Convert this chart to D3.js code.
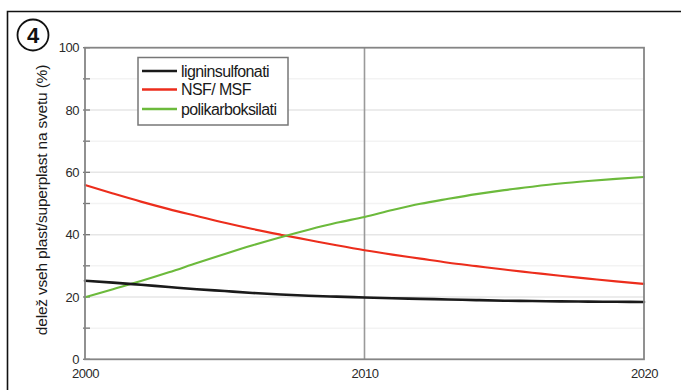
<!DOCTYPE html>
<html><head><meta charset="utf-8">
<script src="https://cdn.jsdelivr.net/npm/d3@7"></script>
<style>body{margin:0;background:#fff}svg{display:block}text{font-family:"Liberation Sans",Arial,sans-serif}</style>
</head><body>
<svg id="c" width="681" height="390"></svg>
<script>
const years = [2000,2001,2002,2003,2004,2005,2006,2007,2008,2009,2010,2011,2012,2013,2014,2015,2016,2017,2018,2019,2020];
const ligninsulfonati = [25.2,24.6,23.9,23.2,22.5,21.9,21.3,20.8,20.4,20.1,19.85,19.6,19.4,19.2,19.0,18.8,18.7,18.6,18.5,18.45,18.4];
const nsfMsf = [55.9,53.2,50.6,48.2,46.0,43.8,41.8,40.0,38.3,36.6,35.0,33.6,32.3,31.0,29.9,28.8,27.8,26.8,25.9,25.0,24.2];
const polikarboksilati = [19.9,22.5,25.1,27.9,30.9,33.8,36.6,39.2,41.6,43.8,45.7,47.9,49.9,51.5,53.0,54.3,55.4,56.4,57.2,57.9,58.5];
const seriesNames = ["ligninsulfonati","NSF/ MSF","polikarboksilati"];
const seriesColors = ["#1a1a1a","#ec2d1c","#6cba3c"];
const yTicks = [0,20,40,60,80,100];
const xTicks = [2000,2010,2020];
const yLabel = "delež vseh plast/superplast na svetu (%)";

const svg = d3.select("#c");
const L=85, R=644, T=47.7, B=359.3;
const x = d3.scaleLinear().domain([2000,2020]).range([L,R]);
const y = d3.scaleLinear().domain([0,100]).range([B,T]);

// outer border (top + left)
svg.append("path").attr("d",`M7.5,390 V11.5 H681`).attr("fill","none").attr("stroke","#111").attr("stroke-width",1.6);

// badge
svg.append("circle").attr("cx",33).attr("cy",35).attr("r",15.5).attr("fill","#fff").attr("stroke","#111").attr("stroke-width",1.8);
svg.append("text").attr("x",33).attr("y",43).attr("text-anchor","middle").attr("font-size",22).attr("font-weight","bold").attr("fill","#111").text("4");

// grid
const minor = d3.range(10,100,10);
svg.append("g").selectAll("line").data(minor).join("line")
  .attr("x1",L).attr("x2",R).attr("y1",d=>y(d)).attr("y2",d=>y(d))
  .attr("stroke",d=>d%20===0?"#e6e6e6":"#f3f3f3").attr("stroke-width",1.5);

// y axis ticks
const yAxis = d3.axisLeft(y).tickValues(yTicks).tickSize(0).tickPadding(6);
const gy = svg.append("g").attr("transform",`translate(${L},0)`).call(yAxis);
gy.select(".domain").remove();
gy.selectAll("text").attr("font-size",13).attr("fill","#2a2a2a").attr("font-family","Liberation Sans, Arial, sans-serif").attr("letter-spacing","-0.5");
svg.append("g").selectAll("line").data(d3.range(0,101,10)).join("line")
  .attr("x1",L-2).attr("x2",L+5).attr("y1",d=>y(d)).attr("y2",d=>y(d))
  .attr("stroke","#777").attr("stroke-width",1.3);

// x axis labels
const xAxis = d3.axisBottom(x).tickValues(xTicks).tickFormat(d3.format("d")).tickSize(0).tickPadding(9);
const gx = svg.append("g").attr("transform",`translate(0,${B})`).call(xAxis);
gx.select(".domain").remove();
gx.selectAll("text").attr("font-size",13).attr("fill","#2a2a2a").attr("font-family","Liberation Sans, Arial, sans-serif").attr("letter-spacing","-0.5");

// 2010 vertical line
svg.append("line").attr("x1",x(2010)).attr("x2",x(2010)).attr("y1",T).attr("y2",B).attr("stroke","#9a9a9a").attr("stroke-width",1.6);

// lines
const allSeries = [ligninsulfonati,nsfMsf,polikarboksilati];
const line = d3.line().x((d,i)=>x(years[i])).y(d=>y(d)).curve(d3.curveMonotoneX);
const draw = [1,2,0];
draw.forEach(k=>{
  svg.append("path").datum(allSeries[k]).attr("d",line).attr("fill","none")
    .attr("stroke",seriesColors[k]).attr("stroke-width",k===0?2.6:2.1).attr("stroke-linecap","round");
});

// frame
svg.append("rect").attr("x",L).attr("y",T).attr("width",R-L).attr("height",B-T).attr("fill","none").attr("stroke","#858585").attr("stroke-width",1.8);

// y label
svg.append("text").attr("transform",`translate(47,200) rotate(-90)`).attr("text-anchor","middle")
  .attr("font-size",15.5).attr("fill","#1a1a1a").attr("letter-spacing","-0.2").text(yLabel);

// legend
const lg = svg.append("g");
lg.append("rect").attr("x",138).attr("y",57.5).attr("width",150).attr("height",67.5).attr("fill","#fff").attr("stroke","#777").attr("stroke-width",1.5);
const rowsY = [71,89.5,109];
seriesNames.forEach((n,i)=>{
  lg.append("line").attr("x1",142).attr("x2",177).attr("y1",rowsY[i]).attr("y2",rowsY[i]).attr("stroke",seriesColors[i]).attr("stroke-width",2.6);
  lg.append("text").attr("x",181).attr("y",rowsY[i]+5.5).attr("font-size",16).attr("fill","#1a1a1a").attr("letter-spacing","-0.6").text(n);
});
</script>
</body></html>
